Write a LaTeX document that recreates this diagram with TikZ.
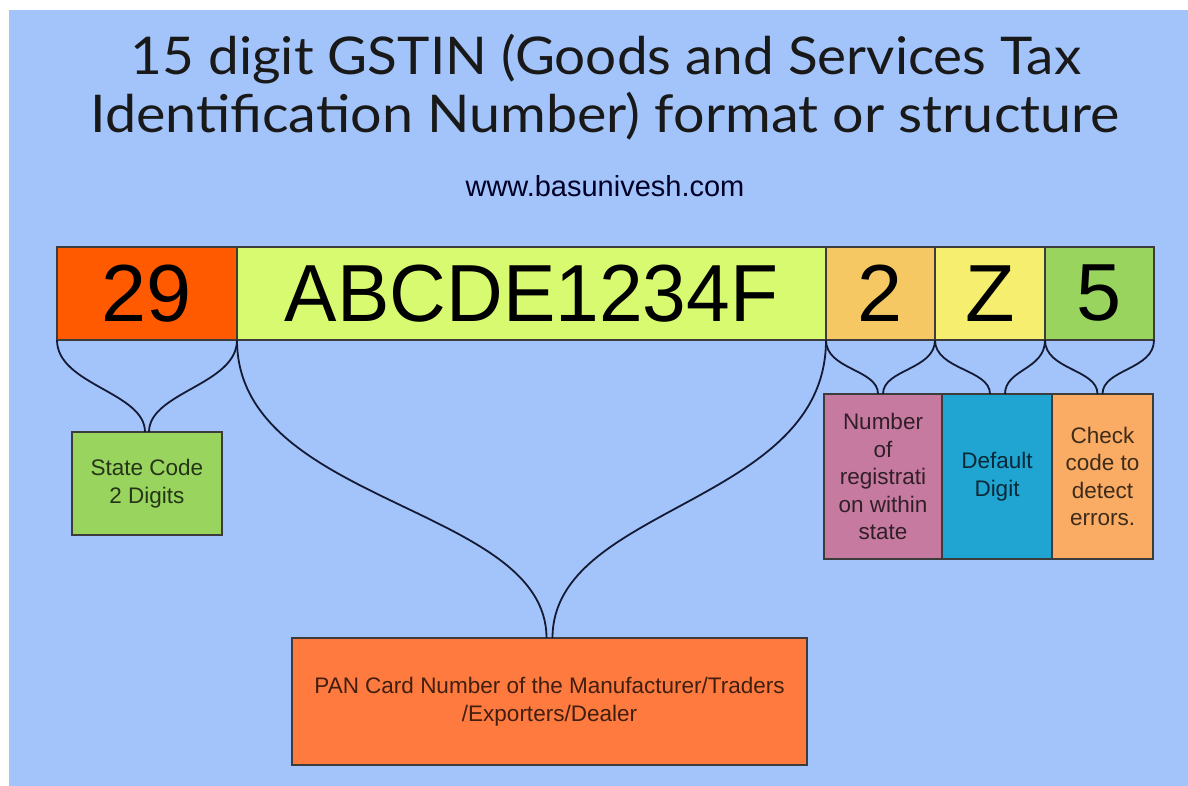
\documentclass[tikz,border=0pt]{standalone}
\usepackage{fontspec}
\setmainfont{Liberation Sans}
\newfontfamily\titlefont{Lato}

\definecolor{bg}{RGB}{163,196,250}
\definecolor{edge}{RGB}{60,60,60}
\definecolor{wire}{RGB}{20,26,52}
\definecolor{fstate}{RGB}{255,90,0}
\definecolor{fpan}{RGB}{216,250,112}
\definecolor{freg}{RGB}{245,200,100}
\definecolor{fdef}{RGB}{245,238,110}
\definecolor{fchk}{RGB}{152,212,94}
\definecolor{bstate}{RGB}{152,212,94}
\definecolor{breg}{RGB}{198,122,160}
\definecolor{bdef}{RGB}{32,164,210}
\definecolor{bchk}{RGB}{250,172,100}
\definecolor{bpan}{RGB}{255,122,62}

\tikzset{
  cell/.style={draw=edge, line width=1.2pt, anchor=north west, inner sep=0pt,
    outer sep=0pt, minimum height=93pt, font=\fontsize{81}{90}\selectfont},
  infobox/.style={draw=edge, line width=1.2pt, anchor=north west, inner sep=0pt,
    outer sep=0pt, align=center, font=\fontsize{22.5}{27.5}\selectfont},
  conn/.style={draw=wire, line width=1.8pt},
  titleline/.style={anchor=base, text=black!90, font=\titlefont\fontsize{52}{58}\selectfont}
}

\begin{document}
\begin{tikzpicture}[x=1pt,y=-1pt]
\useasboundingbox (0,0) rectangle (1188,786);
\fill[white] (0,0) rectangle (1188,786);
\fill[bg] (9,10) rectangle (1188,786);

% heading
\node[titleline] (t1) at (606,75) {\scalebox{1.055}[1]{15 digit GSTIN (Goods and Services Tax}};
\node[titleline] (t2) at (605,133) {\scalebox{1.07}[1]{Identification Number) format or structure}};
\node[anchor=base, text=black!85!blue, font=\fontsize{29}{32}\selectfont] (url) at (605,197) {www.basunivesh.com};

% the 15 characters
\node[cell, fill=fstate, minimum width=180pt] (c29) at (57,247) {29};
\node[cell, fill=fpan, minimum width=589pt] (cpan) at (237,247) {\scalebox{0.97}[1]{ABCDE1234F}};
\node[cell, fill=freg, minimum width=109pt] (creg) at (826,247) {2};
\node[cell, fill=fdef, minimum width=110pt] (cdef) at (935,247) {Z};
\node[cell, fill=fchk, minimum width=109pt] (cchk) at (1045,247) {5};

% explanations
\node[infobox, fill=bstate, text=bstate!25!black, minimum width=150pt, minimum height=103pt]
  (state) at (72,432) {State Code\\2 Digits};
\node[infobox, fill=breg, text=breg!25!black, minimum width=118pt, minimum height=165pt]
  (reg) at (824,394) {Number\\of\\registrati\\on within\\state};
\node[infobox, fill=bdef, text=bdef!25!black, minimum width=110pt, minimum height=165pt]
  (def) at (942,394) {Default\\Digit};
\node[infobox, fill=bchk, text=bchk!25!black, minimum width=101pt, minimum height=165pt]
  (chk) at (1052,394) {Check\\code to\\detect\\errors.};
\node[infobox, fill=bpan, text=bpan!25!black, minimum width=515pt, minimum height=127pt]
  (pan) at (292,638) {PAN Card Number of the Manufacturer/Traders\\/Exporters/Dealer};

% braces
\draw[conn] (c29.south west) .. controls +(0,45) and +(0,-40) .. ([xshift=-2pt]state.north);
\draw[conn] (c29.south east) .. controls +(0,45) and +(0,-40) .. ([xshift=2pt]state.north);

\draw[conn] (cpan.south west) .. controls +(0,165) and +(0,-133) .. ([xshift=-3pt]pan.north);
\draw[conn] (cpan.south east) .. controls +(0,165) and +(0,-133) .. ([xshift=3pt]pan.north);

\draw[conn] (creg.south west) .. controls +(0,30) and +(0,-25) .. ([xshift=-5pt]reg.north);
\draw[conn] (creg.south east) .. controls +(0,30) and +(0,-25) .. ([xshift=0pt]reg.north);

\draw[conn] (cdef.south west) .. controls +(0,30) and +(0,-25) .. ([xshift=-7pt]def.north);
\draw[conn] (cdef.south east) .. controls +(0,30) and +(0,-25) .. ([xshift=8pt]def.north);

\draw[conn] (cchk.south west) .. controls +(0,30) and +(0,-25) .. ([xshift=-5pt]chk.north);
\draw[conn] (cchk.south east) .. controls +(0,30) and +(0,-25) .. ([xshift=0pt]chk.north);
\end{tikzpicture}
\end{document}
